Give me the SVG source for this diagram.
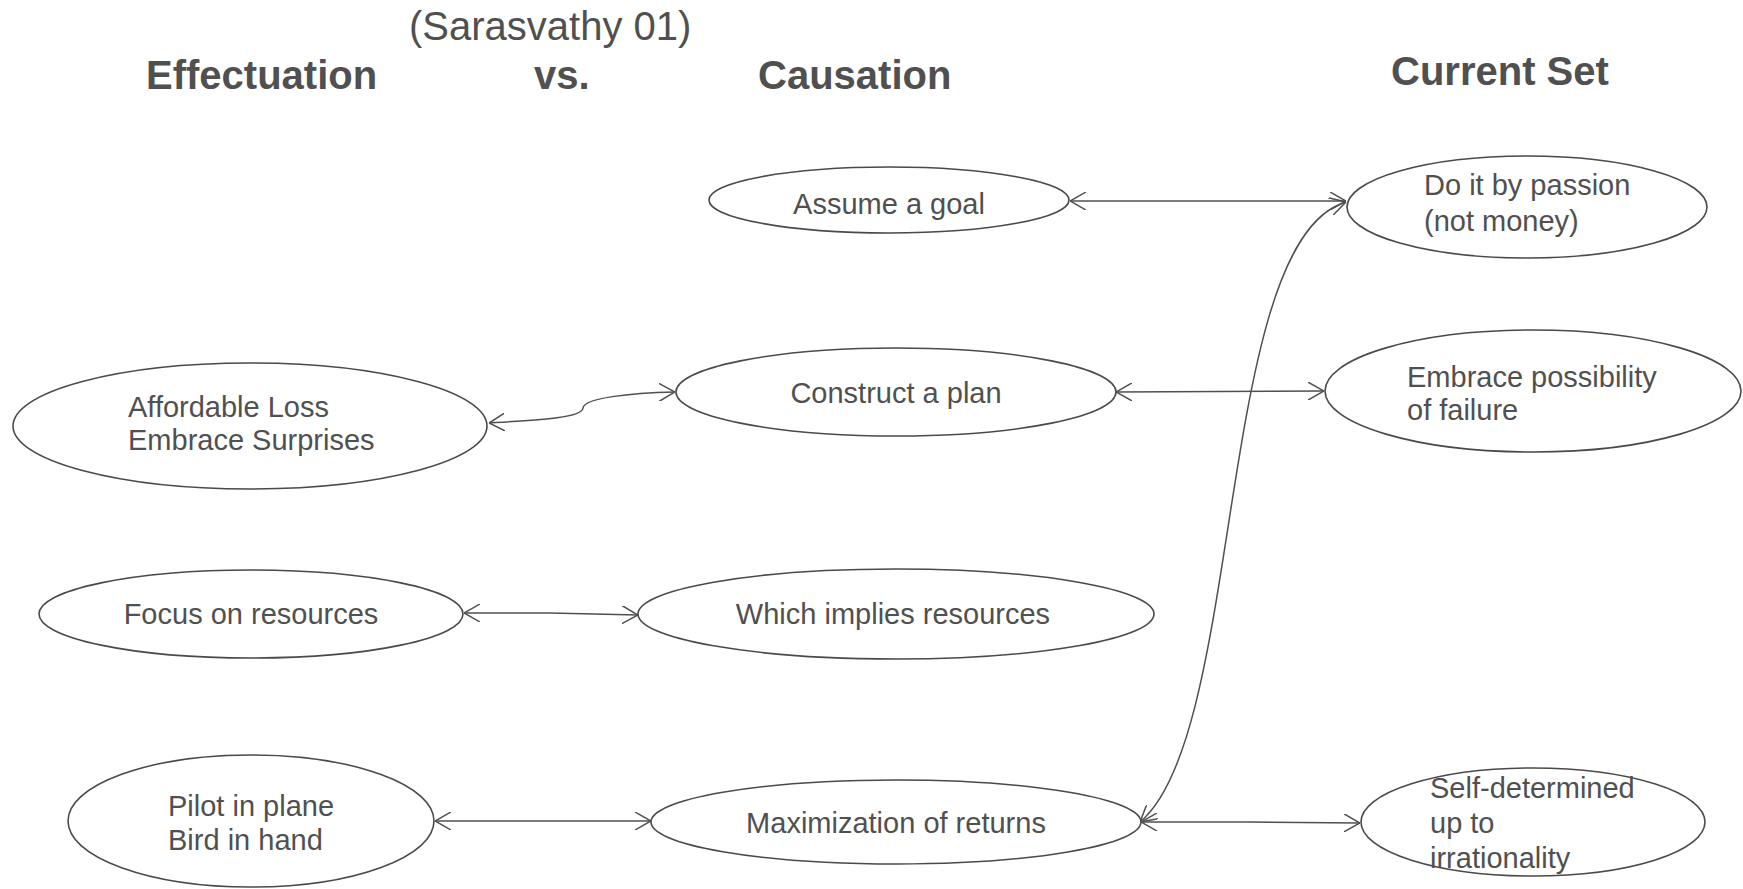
<svg xmlns="http://www.w3.org/2000/svg" width="1743" height="889" viewBox="0 0 1743 889">
<style>
.t{font-family:"Liberation Sans",Arial,sans-serif;fill:#505050}
.h{font-size:40px;font-weight:bold}
.s{font-size:40px}
.n{font-size:29px}
.c{text-anchor:middle}
.e{fill:#fff;stroke:#4a4a4a;stroke-width:1.6}
.k{fill:none;stroke:#505050;stroke-width:1.5;marker-start:url(#ah);marker-end:url(#ah)}
</style>
<defs>
<marker id="ah" viewBox="0 0 16 18" refX="16" refY="9" markerWidth="16" markerHeight="18" markerUnits="userSpaceOnUse" orient="auto-start-reverse">
<path d="M0,0 L16,9 L0,18" fill="none" stroke="#505050" stroke-width="1.5"/>
</marker>
</defs>
<rect width="1743" height="889" fill="#fff"/>
<g id="titles">
<text class="t s" x="409" y="40">(Sarasvathy 01)</text>
<text class="t h" x="146" y="89">Effectuation</text>
<text class="t h" x="534" y="89">vs.</text>
<text class="t h" x="758" y="89">Causation</text>
<text class="t h" x="1391" y="85">Current Set</text>
</g>
<g id="connectors">
<path class="k" d="M1070,201 L1346,201"/>
<path class="k" d="M1140,822 C1245,735 1215,240 1346,202"/>
<path class="k" d="M489,423 C540,420 582,418 583,408 C584,398 630,393 675,392"/>
<path class="k" d="M1116,392 L1324,391"/>
<path class="k" d="M464,613 L550,613 L638,615"/>
<path class="k" d="M435,821 L651,821"/>
<path class="k" d="M1141,822 L1250,822 L1360,823"/>
</g>
<g id="assume-goal">
<ellipse class="e" cx="889" cy="200" rx="180" ry="33"/>
<text class="t n c" x="889" y="214">Assume a goal</text>
</g>
<g id="do-it-by-passion">
<ellipse class="e" cx="1527" cy="207" rx="180" ry="51"/>
<text class="t n" x="1424" y="195">Do it by passion</text>
<text class="t n" x="1424" y="231">(not money)</text>
</g>
<g id="affordable-loss">
<ellipse class="e" cx="250" cy="426" rx="237" ry="63"/>
<text class="t n" x="128" y="417">Affordable Loss</text>
<text class="t n" x="128" y="450">Embrace Surprises</text>
</g>
<g id="construct-plan">
<ellipse class="e" cx="896" cy="392" rx="220" ry="44"/>
<text class="t n c" x="896" y="403">Construct a plan</text>
</g>
<g id="embrace-failure">
<ellipse class="e" cx="1533" cy="391" rx="208" ry="61"/>
<text class="t n" x="1407" y="387">Embrace possibility</text>
<text class="t n" x="1407" y="420">of failure</text>
</g>
<g id="focus-resources">
<ellipse class="e" cx="251" cy="614" rx="212" ry="44"/>
<text class="t n c" x="251" y="624">Focus on resources</text>
</g>
<g id="implies-resources">
<ellipse class="e" cx="896" cy="614" rx="258" ry="45"/>
<text class="t n c" x="893" y="624">Which implies resources</text>
</g>
<g id="pilot-bird">
<ellipse class="e" cx="251" cy="821" rx="183" ry="66"/>
<text class="t n" x="168" y="816">Pilot in plane</text>
<text class="t n" x="168" y="850">Bird in hand</text>
</g>
<g id="maximization">
<ellipse class="e" cx="896" cy="822" rx="245" ry="42"/>
<text class="t n c" x="896" y="833">Maximization of returns</text>
</g>
<g id="self-determined">
<ellipse class="e" cx="1533" cy="822" rx="172" ry="54"/>
<text class="t n" x="1430" y="798">Self-determined</text>
<text class="t n" x="1430" y="833">up to</text>
<text class="t n" x="1430" y="868">irrationality</text>
</g>
</svg>
